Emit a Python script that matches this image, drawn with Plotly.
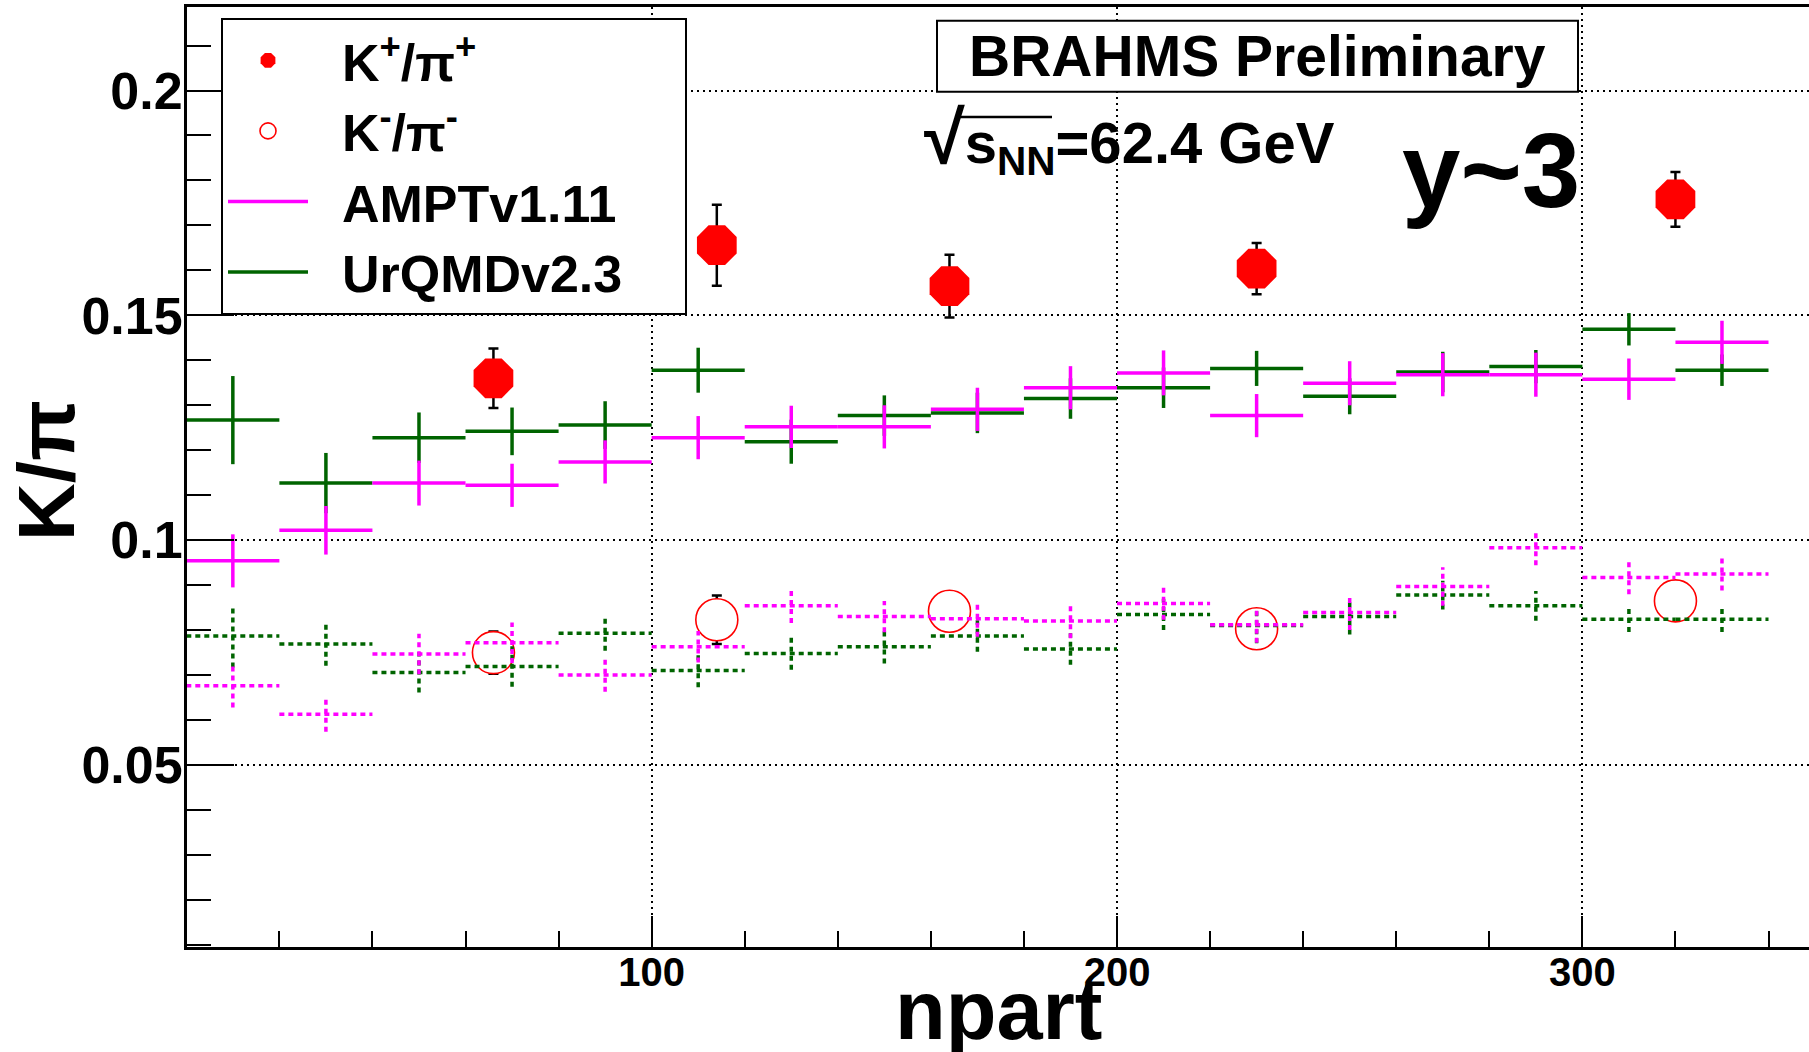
import plotly.graph_objects as go

# ---------------- data ----------------
bin_centers = [10, 30, 50, 70, 90, 110, 130, 150, 170, 190, 210, 230, 250, 270, 290, 310, 330]
bin_width = 20

ampt_kplus = [0.0954, 0.1022, 0.1127, 0.1122, 0.1174, 0.1228, 0.1252, 0.1252, 0.1291, 0.1339,
              0.1372, 0.1277, 0.1349, 0.1368, 0.1368, 0.1358, 0.1440]
ampt_kplus_err = [0.0059, 0.0054, 0.0050, 0.0048, 0.0048, 0.0048, 0.0047, 0.0048, 0.0048, 0.0048,
                  0.0050, 0.0048, 0.0049, 0.0048, 0.0049, 0.0046, 0.0048]

urqmd_kplus = [0.1267, 0.1127, 0.1228, 0.1242, 0.1256, 0.1378, 0.1219, 0.1277, 0.1283, 0.1315,
               0.1339, 0.1382, 0.1320, 0.1374, 0.1386, 0.1469, 0.1378]
urqmd_kplus_err = [0.0098, 0.0067, 0.0056, 0.0053, 0.0053, 0.0050, 0.0049, 0.0045, 0.0045, 0.0045,
                   0.0045, 0.0039, 0.0040, 0.0045, 0.0037, 0.0036, 0.0035]

ampt_kminus = [0.0676, 0.0613, 0.0747, 0.0772, 0.0700, 0.0763, 0.0854, 0.0830, 0.0825, 0.0820,
               0.0859, 0.0812, 0.0839, 0.0897, 0.0983, 0.0917, 0.0925]
ampt_kminus_err = [0.0048, 0.0039, 0.0045, 0.0045, 0.0037, 0.0035, 0.0038, 0.0035, 0.0040, 0.0038,
                   0.0036, 0.0040, 0.0039, 0.0043, 0.0039, 0.0037, 0.0037]

urqmd_kminus = [0.0787, 0.0769, 0.0706, 0.0719, 0.0793, 0.0710, 0.0748, 0.0763, 0.0787, 0.0758,
                0.0835, 0.0810, 0.0830, 0.0878, 0.0854, 0.0824, 0.0824]
urqmd_kminus_err = [0.0070, 0.0048, 0.0045, 0.0045, 0.0039, 0.0037, 0.0036, 0.0037, 0.0035, 0.0035,
                    0.0035, 0.0039, 0.0040, 0.0032, 0.0033, 0.0028, 0.0028]

data_npart = [66, 114, 164, 230, 320]
data_kplus = [0.1360, 0.1656, 0.1565, 0.1604, 0.1758]
data_kplus_err = [0.0066, 0.0090, 0.0070, 0.0057, 0.0061]
data_kminus = [0.0750, 0.0823, 0.0842, 0.0803, 0.0865]
data_kminus_err = [0.0047, 0.0054, 0.0030, 0.0030, 0.0030]

x_range = [0.15, 348.7]
y_range = [0.00953, 0.21857]

# ---------------- styles ----------------
FONT = "Liberation Sans, Arial, Helvetica, sans-serif"
MAGENTA = "#ff00ff"
GREEN = "#006400"
RED = "#ff0000"
LW = 3.5
DASH = "5px,4px"
NB = "\u00a0"


def crosses(centers, vals, errs, width):
    """Histogram-style crosses: horizontal bar over the bin, vertical error bar."""
    xs, ys = [], []
    half = width / 2.0
    for c, v, e in zip(centers, vals, errs):
        xs += [c - half, c + half, None, c, c, None]
        ys += [v, v, None, v - e, v + e, None]
    return xs, ys


def legend_name(s):
    return NB * 2 + s + NB * 4


fig = go.Figure()

# K-/pi- data (drawn first so model lines show through)
fig.add_trace(go.Scatter(
    x=data_npart, y=data_kminus, mode="markers",
    name=legend_name("K<sup>-</sup>/π<sup>-</sup>"), legendrank=200,
    marker=dict(symbol="circle", size=42, color="white",
                line=dict(color=RED, width=1.6)),
    error_y=dict(type="data", array=data_kminus_err, color="black",
                 thickness=2.5, width=5),
))

ux, uy = crosses(bin_centers, urqmd_kplus, urqmd_kplus_err, bin_width)
fig.add_trace(go.Scatter(x=ux, y=uy, mode="lines", name=legend_name("UrQMDv2.3"), legendrank=400,
                         line=dict(color=GREEN, width=LW)))
ux, uy = crosses(bin_centers, urqmd_kminus, urqmd_kminus_err, bin_width)
fig.add_trace(go.Scatter(x=ux, y=uy, mode="lines", showlegend=False,
                         line=dict(color=GREEN, width=LW, dash=DASH)))

ax, ay = crosses(bin_centers, ampt_kplus, ampt_kplus_err, bin_width)
fig.add_trace(go.Scatter(x=ax, y=ay, mode="lines", name=legend_name("AMPTv1.11"), legendrank=300,
                         line=dict(color=MAGENTA, width=LW)))
ax, ay = crosses(bin_centers, ampt_kminus, ampt_kminus_err, bin_width)
fig.add_trace(go.Scatter(x=ax, y=ay, mode="lines", showlegend=False,
                         line=dict(color=MAGENTA, width=LW, dash=DASH)))

# K+/pi+ data
fig.add_trace(go.Scatter(
    x=data_npart, y=data_kplus, mode="markers",
    name=legend_name("K<sup>+</sup>/π<sup>+</sup>"), legendrank=100,
    marker=dict(symbol="octagon", size=43, color=RED, line=dict(width=0)),
    error_y=dict(type="data", array=data_kplus_err, color="black",
                 thickness=2.5, width=5),
))

W, H = 1809, 1052
L, R, T, B = 187, 0, 7, 105
pw, ph = W - L - R, H - T - B


def px(xp):
    return (xp - L) / pw


def py(yp):
    return (H - B - yp) / ph


grid = dict(showgrid=True, gridcolor="black", gridwidth=1.5, griddash="2px,4px")

fig.update_layout(
    width=W, height=H,
    margin=dict(l=L, r=R, t=T, b=B, pad=0),
    paper_bgcolor="white", plot_bgcolor="white",
    font=dict(family=FONT, color="black"),
    xaxis=dict(
        range=x_range, tickmode="linear", tick0=0, dtick=100,
        ticks="inside", ticklen=31, tickwidth=2, tickcolor="black",
        minor=dict(dtick=20, tick0=0, ticks="inside", ticklen=16, tickwidth=2,
                   tickcolor="black", showgrid=False),
        showline=True, linecolor="black", linewidth=3, mirror=True,
        tickfont=dict(size=40, family=FONT, weight="bold", color="black"),
        ticklabelstandoff=-12, zeroline=False, **grid,
    ),
    yaxis=dict(
        range=y_range, tickmode="linear", tick0=0, dtick=0.05,
        ticks="inside", ticklen=47, tickwidth=2, tickcolor="black",
        minor=dict(dtick=0.01, tick0=0, ticks="inside", ticklen=24, tickwidth=2,
                   tickcolor="black", showgrid=False),
        showline=True, linecolor="black", linewidth=3, mirror=False,
        tickfont=dict(size=52, family=FONT, weight="bold", color="black"),
        ticklabelstandoff=-9, zeroline=False, **grid,
    ),
    legend=dict(
        x=px(221), y=py(18), xanchor="left", yanchor="top",
        bgcolor="white", bordercolor="black", borderwidth=2,
        font=dict(size=52, family=FONT, weight="bold", color="black"),
        itemwidth=80, traceorder="normal",
    ),
    showlegend=True,
)

# BRAHMS Preliminary box
fig.add_shape(type="rect", xref="paper", yref="paper",
              x0=px(937), x1=px(1578), y0=py(91.7), y1=py(20.7),
              line=dict(color="black", width=2), fillcolor="white", layer="above")

# overline of the square root
fig.add_shape(type="line", xref="paper", yref="paper",
              x0=px(958), x1=px(1052), y0=py(117), y1=py(117),
              line=dict(color="black", width=2.5), layer="above")

annots = [
    dict(text="<b>BRAHMS Preliminary</b>", x=px(1257), y=py(56), size=57),
    dict(text="<b><span style='font-size:74px'>√</span>s<sub>NN</sub>=62.4 GeV</b>",
         x=px(1129), y=py(140), size=58),
    dict(text="<b>y~3</b>", x=px(1491), y=py(170), size=105),
    dict(text="<b>npart</b>", x=px(999), y=py(1010), size=83),
]
for a in annots:
    fig.add_annotation(text=a["text"], xref="paper", yref="paper", x=a["x"], y=a["y"],
                       xanchor="center", yanchor="middle", showarrow=False,
                       font=dict(size=a["size"], family=FONT, color="black"))

fig.add_annotation(text="<b>K/π</b>", xref="paper", yref="paper", x=px(46), y=py(471),
                   xanchor="center", yanchor="middle", showarrow=False, textangle=-90,
                   font=dict(size=80, family=FONT, color="black"))

fig.write_html("out.html")
